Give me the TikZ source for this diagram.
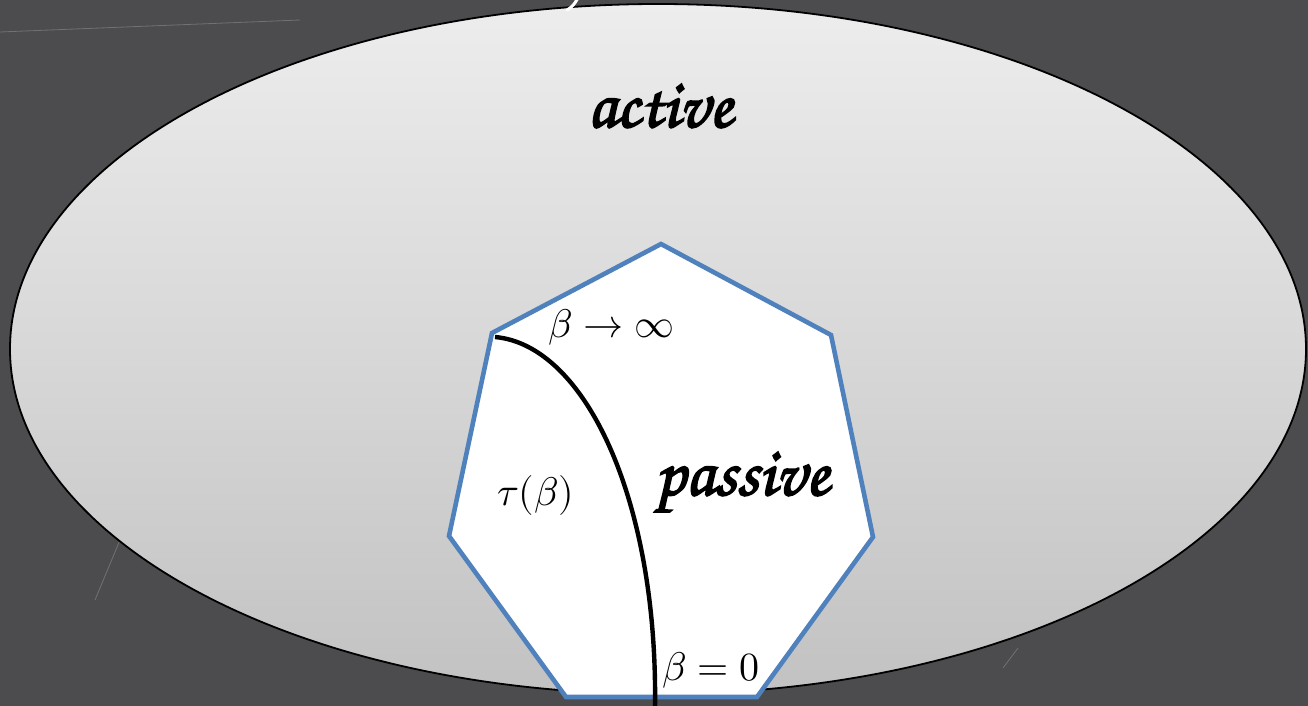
\documentclass[tikz,border=0pt]{standalone}
\usepackage{fontspec}
\usepackage{unicode-math}
\setmathfont{Latin Modern Math}
\newfontfamily\handfont{texgyrechorus-mediumitalic.otf}[FakeBold=2.5]
\definecolor{board}{RGB}{76,76,79}
\definecolor{hepblue}{RGB}{79,129,189}
\definecolor{elltop}{RGB}{237,237,237}
\definecolor{ellbot}{RGB}{194,194,194}
\begin{document}
\begin{tikzpicture}[x=1pt,y=-1pt,
  region/.style={inner sep=0pt, font=\handfont\fontsize{69}{72}\selectfont},
  mlabel/.style={inner sep=0pt, font=\fontsize{40}{42}\selectfont},
  hept/.style={fill=white, draw=hepblue, line width=4.6pt, line join=miter},
  tcurve/.style={draw=black, line width=4.4pt},
  scratch/.style={draw=white!60!board, line width=0.8pt, opacity=0.35}]
\fill[board] (0,0) rectangle (1308,706);
\useasboundingbox (0,0) rectangle (1308,706);
% faint chalk scratches
\draw[scratch] (0,32) -- (300,20);
\draw[scratch] (95,600) -- (120,540);
\draw[scratch] (1003,668) -- (1018,648);
% ellipse
\shade[top color=elltop, bottom color=ellbot, draw=black, line width=1.8pt]
  (658,349) ellipse [x radius=648pt, y radius=345pt];
% chalk mark at top
\draw[white, line width=3pt, line cap=round] (567,10) .. controls (573,6) .. (578,-2);
% heptagon
\coordinate (v1) at (661,244);
\coordinate (v2) at (831,335);
\coordinate (v3) at (873,537);
\coordinate (v4) at (757,697);
\coordinate (v5) at (566,697);
\coordinate (v6) at (449,536);
\coordinate (v7) at (492,333);
\path[hept] (v1) -- (v2) -- (v3) -- (v4) -- (v5) -- (v6) -- (v7) -- cycle;
% curve tau(beta)
\coordinate (tstart) at (495,337);
\coordinate (tend) at (655,708);
\draw[tcurve] (tstart) .. controls (585,345) and (658,500) .. (tend);
% labels
\node[region, anchor=base] (active) at (660,127) {active};
\node[region, anchor=base] (passive) at (742,495) {passive};
\node[mlabel, anchor=base west] (binf) at (548,337) {$\beta\to\infty$};
\node[mlabel, anchor=base west] (tau) at (497,505) {$\tau(\beta)$};
\node[mlabel, anchor=base west] (bzero) at (662,680) {$\beta=0$};
\end{tikzpicture}
\end{document}
